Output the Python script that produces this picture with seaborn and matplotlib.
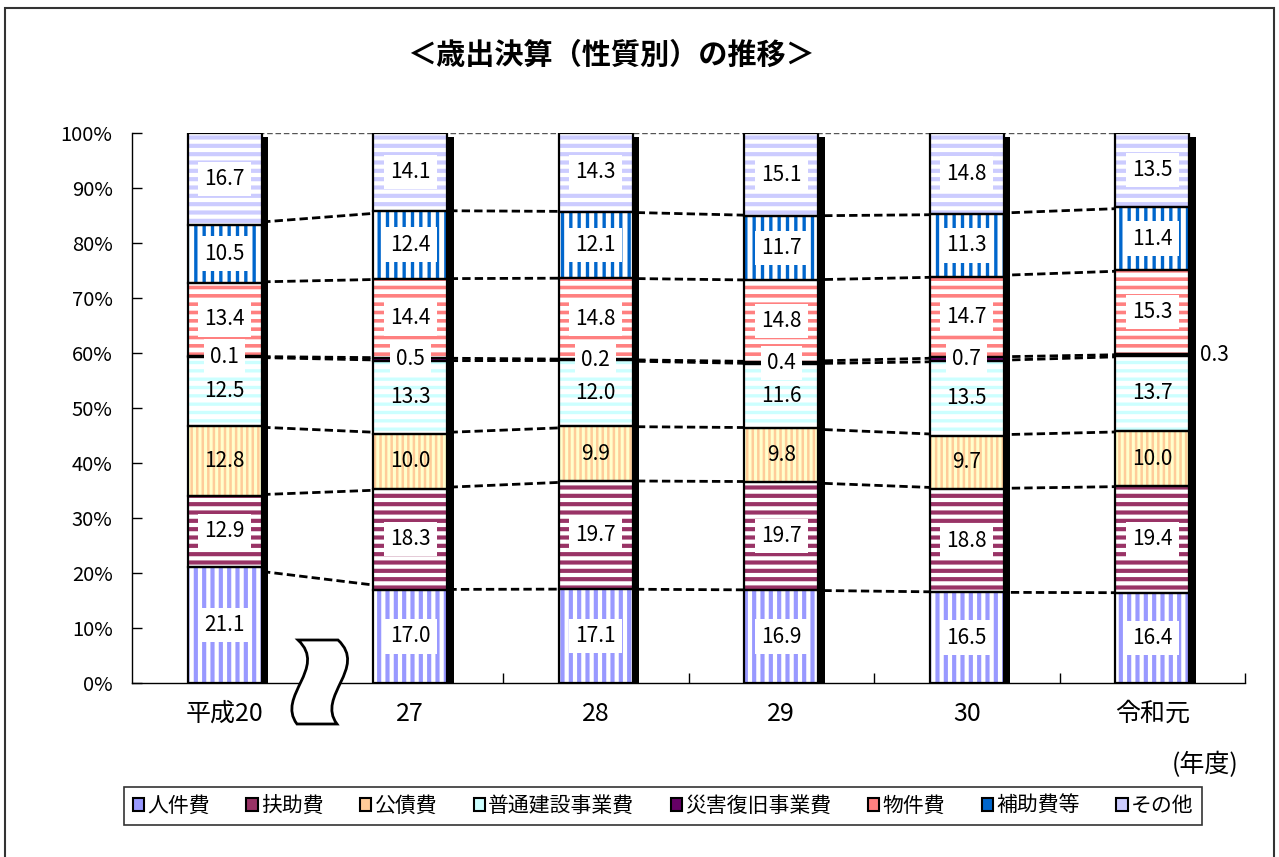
# 歳出決算（性質別）の推移 - 100% stacked bar chart
import numpy as np
import matplotlib.pyplot as plt
import seaborn as sns
from matplotlib.patches import Patch, PathPatch, Rectangle
from matplotlib.path import Path

# ============================================
# DATA
# ============================================
categories = ['平成20', '27', '28', '29', '30', '令和元']
series_names = ['人件費', '扶助費', '公債費', '普通建設事業費',
                '災害復旧事業費', '物件費', '補助費等', 'その他']

jinkenhi = [21.1, 17.0, 17.1, 16.9, 16.5, 16.4]
fujohi = [12.9, 18.3, 19.7, 19.7, 18.8, 19.4]
kosaihi = [12.8, 10.0, 9.9, 9.8, 9.7, 10.0]
futsu_kensetsu = [12.5, 13.3, 12.0, 11.6, 13.5, 13.7]
saigai = [0.1, 0.5, 0.2, 0.4, 0.7, 0.3]
bukkenhi = [13.4, 14.4, 14.8, 14.8, 14.7, 15.3]
hojohi = [10.5, 12.4, 12.1, 11.7, 11.3, 11.4]
sonota = [16.7, 14.1, 14.3, 15.1, 14.8, 13.5]

yticks = list(range(0, 101, 10))

# fill style per series: face, stripe colour, hatch, hatch width, label box
styles = [
    dict(face='white', stripe='#9999FF', hatch='||', hlw=3.0, box=True),
    dict(face='white', stripe='#993366', hatch='--', hlw=3.0, box=True),
    dict(face='#FFFFCC', stripe='#FFCC99', hatch='|||', hlw=1.8, box=False),
    dict(face='white', stripe='#CCFFFF', hatch='--', hlw=2.4, box=False),
    dict(face='#660066', stripe='#660066', hatch=None, hlw=1.0, box=True),
    dict(face='white', stripe='#FF8080', hatch='--', hlw=2.6, box=True),
    dict(face='white', stripe='#0066CC', hatch='||', hlw=2.4, box=True),
    dict(face='white', stripe='#CCCCFF', hatch='--', hlw=3.0, box=True),
]

# ============================================
# STYLE
# ============================================
sns.set_theme(style='white', rc={'text.color': 'black', 'axes.labelcolor': 'black',
                                 'xtick.color': 'black', 'ytick.color': 'black',
                                 'axes.edgecolor': 'black'})
plt.rcParams['font.family'] = ['Noto Sans CJK JP', 'DejaVu Sans']
plt.rcParams['hatch.linewidth'] = 2.6

W, H = 1279, 857
fig = plt.figure(figsize=(W / 100, H / 100), dpi=100)
fig.patch.set_facecolor('white')
ax = fig.add_axes([132 / W, 1 - 683 / H, 1113 / W, 550 / H])

data = np.array([jinkenhi, fujohi, kosaihi, futsu_kensetsu,
                 saigai, bukkenhi, hojohi, sonota])
x = np.arange(len(categories))
bw = 0.4
shares = data / data.sum(axis=0) * 100
tops = np.cumsum(shares, axis=0)
bottoms = tops - shares

# dashed connector lines between bars
for k in range(len(series_names) - 1):
    ax.plot(x, tops[k], color='black', lw=2, ls=(0, (3, 1.5)), zorder=1)
ax.plot(x, tops[-1], color='#555555', lw=1, ls=(0, (4, 2)), zorder=1)

# bar shadow on the right side
ax.bar(x + 0.035, tops[-1] - 0.7, width=bw, color='black', linewidth=0, zorder=2)

# stacked segments
for i, (name, st) in enumerate(zip(series_names, styles)):
    bars = ax.bar(x, shares[i], bottom=bottoms[i], width=bw, color=st['face'],
                  edgecolor=st['stripe'], hatch=st['hatch'], linewidth=0, zorder=3)
    for b in bars:
        if hasattr(b, 'set_hatch_linewidth'):
            b.set_hatch_linewidth(st['hlw'])
    ax.bar(x, shares[i], bottom=bottoms[i], width=bw, facecolor='none',
           edgecolor='black', linewidth=1.6, zorder=4)

    for j in range(len(categories)):
        txt = f'{data[i][j]:.1f}'
        yc = bottoms[i][j] + shares[i][j] / 2
        if name == '災害復旧事業費' and j == len(categories) - 1:
            ax.text(x[j] + bw / 2 + 0.06, yc, txt, ha='left', va='center',
                    fontsize=15, zorder=6, clip_on=False)
            continue
        bbox = dict(boxstyle='square,pad=0.3', facecolor='white', edgecolor='none') if st['box'] else None
        ax.text(x[j], yc, txt, ha='center', va='center', fontsize=15,
                bbox=bbox, zorder=6)

# axes and ticks
ax.set_xlim(-0.5, len(categories) - 0.5)
ax.set_ylim(0, 100)
ax.set_yticks(yticks)
ax.set_yticklabels([f'{t}%' for t in yticks], fontsize=14.5)
ax.set_xticks(x)
ax.set_xticklabels(categories, fontsize=18)
ax.set_xticks(x + 0.5, minor=True)
ax.tick_params(axis='x', which='major', bottom=False, pad=7)
ax.tick_params(axis='x', which='minor', bottom=True, direction='in', length=7, width=1)
ax.tick_params(axis='y', left=True, direction='in', length=7, width=1, pad=14)
for s in ['top', 'right']:
    ax.spines[s].set_visible(False)
for s in ['left', 'bottom']:
    ax.spines[s].set_linewidth(1)
    ax.spines[s].set_color('black')
ax.set_facecolor('white')
ax.grid(False)


def fpx(xp, yp):
    return (xp / W, 1 - yp / H)


# axis break symbol
verts = [fpx(298, 640), fpx(328, 668), fpx(276, 696), fpx(297, 724),
         fpx(337, 724), fpx(316, 696), fpx(368, 668), fpx(338, 640), fpx(298, 640)]
codes = [Path.MOVETO, Path.CURVE4, Path.CURVE4, Path.CURVE4, Path.LINETO,
         Path.CURVE4, Path.CURVE4, Path.CURVE4, Path.CLOSEPOLY]
fig.add_artist(PathPatch(Path(verts, codes), transform=fig.transFigure,
                         facecolor='white', edgecolor='black', lw=2, zorder=10))

# title and unit
fig.text(611 / W, 1 - 55 / H, '＜歳出決算（性質別）の推移＞', ha='center', va='center',
         fontsize=21, fontweight='bold')
fig.text(1238 / W, 1 - 765 / H, '(年度)', ha='right', va='center', fontsize=18)

# legend
handles = [Patch(facecolor=st['stripe'], edgecolor='black', linewidth=1.5) for st in styles]
leg = fig.legend(handles, series_names, loc='center', bbox_to_anchor=(663 / W, 1 - 806 / H),
                 ncol=len(series_names), fontsize=15, frameon=True, fancybox=False,
                 edgecolor='black', handlelength=0.55, handleheight=0.55,
                 handletextpad=0.15, columnspacing=1.75, borderpad=0.4)
leg.get_frame().set_linewidth(1.2)

# outer frame
fig.add_artist(Rectangle((5 / W, -0.01), (1274 - 5) / W, 1 - 8 / H + 0.01,
                         transform=fig.transFigure, fill=False, edgecolor='#333333', lw=1.5))

plt.savefig('out.png', dpi=100)
